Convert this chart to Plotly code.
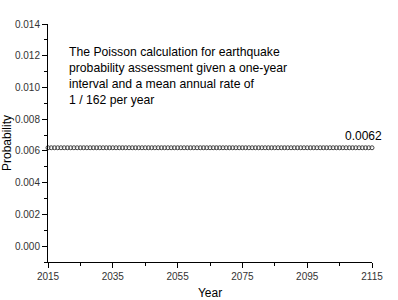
import plotly.graph_objects as go

years = list(range(2015, 2116))
probability = [0.0062] * len(years)
x_ticks = [2015, 2035, 2055, 2075, 2095, 2115]
y_ticks = [0.000, 0.002, 0.004, 0.006, 0.008, 0.010, 0.012, 0.014]
note_lines = ["The Poisson calculation for earthquake",
              "probability assessment given a one-year",
              "interval and a mean annual rate of",
              "1 / 162 per year"]
value_label = "0.0062"

fig = go.Figure()
fig.add_trace(go.Scatter(
    x=years, y=probability, mode="markers",
    marker=dict(symbol="circle-open", size=4, color="#444444", line=dict(width=1)),
    showlegend=False, cliponaxis=False))

font = "Liberation Sans, Arial, sans-serif"
fig.update_layout(
    width=398, height=300,
    margin=dict(l=48, r=26, t=24, b=38),
    plot_bgcolor="white", paper_bgcolor="white",
    font=dict(family=font, size=10, color="#333333"),
    xaxis=dict(range=[2015, 2115], tickvals=x_ticks, ticks="outside", ticklen=5,
               tickcolor="black", showline=True, linecolor="black", linewidth=1,
               showgrid=False, zeroline=False, automargin=False,
               minor=dict(dtick=10, tick0=2015, ticks="outside", ticklen=3, tickcolor="black"),
               title=dict(text="Year", font=dict(size=12, color="black"), standoff=14),
               tickfont=dict(size=10)),
    yaxis=dict(range=[-0.001, 0.014], tickvals=y_ticks, tickformat=".3f", ticks="outside",
               ticklen=5, tickcolor="black", showline=True, linecolor="black", linewidth=1,
               showgrid=False, zeroline=False, automargin=False,
               minor=dict(dtick=0.001, tick0=0, ticks="outside", ticklen=3, tickcolor="black"),
               title=dict(text="Probability", font=dict(size=12, color="black"), standoff=2),
               tickfont=dict(size=10)),
)
fig.add_annotation(x=0.067, y=0.783, xref="paper", yref="paper", xanchor="left", yanchor="middle",
                   xshift=-3,
                   text="<br>".join(note_lines), showarrow=False, align="left",
                   font=dict(size=12.2, color="black", family=font))
fig.add_annotation(x=2112.5, y=0.0062, xref="x", yref="y", xanchor="center", yanchor="middle",
                   yshift=12, text=value_label, showarrow=False,
                   font=dict(size=12, color="black", family=font))
fig.write_html("out.html")
